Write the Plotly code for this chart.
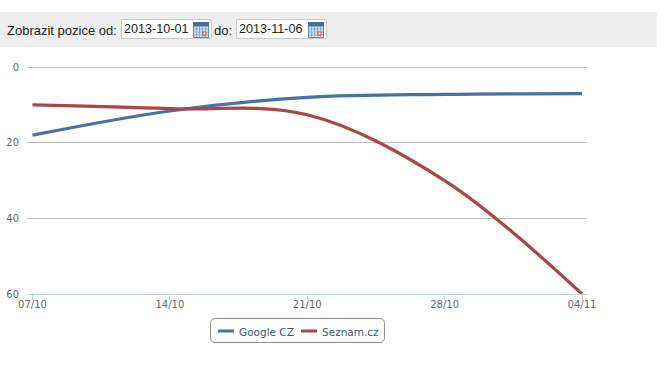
import plotly.graph_objects as go

W, H = 671, 369
L, R, T, B = 27, 587, 67, 294

categories = ["07/10", "14/10", "21/10", "28/10", "04/11"]
google = [18, 11.6, 8, 7.2, 7]
seznam = [10, 11, 12.6, 30, 60]
y_ticks = [0, 20, 40, 60]
date_from = "2013-10-01"
date_to = "2013-11-06"
BLUE = "#4572A7"
RED = "#AA4643"


def px(x):
    return (x - L) / (R - L)


def py(y):
    return (B - y) / (B - T)


def rect(x0, y0, x1, y1, fill=None, line=None, lw=1):
    return dict(type="rect", xref="paper", yref="paper", x0=px(x0), x1=px(x1), y0=py(y0), y1=py(y1),
                fillcolor=fill or "rgba(0,0,0,0)", line=dict(color=line or "rgba(0,0,0,0)", width=lw if line else 0), layer="below")


def seg(x0, y0, x1, y1, color, lw=1):
    return dict(type="line", xref="paper", yref="paper", x0=px(x0), x1=px(x1), y0=py(y0), y1=py(y1),
                line=dict(color=color, width=lw), layer="below")


def text(x, y, s, size, color, family, anchor="left"):
    return dict(xref="paper", yref="paper", x=px(x), y=py(y), text=s, showarrow=False, xanchor=anchor, yanchor="middle",
                font=dict(size=size, color=color, family=family), borderpad=0, borderwidth=0)


def calendar(x):
    out = [rect(x, 22.5, x + 15, 37.5, "#dbe6f6", "#5b7fae"), rect(x, 22.5, x + 15, 26, "#4a6a9c", "#4a6a9c")]
    for i in range(1, 5):
        out.append(seg(x + i * 3, 26, x + i * 3, 37.5, "#8aa6cc"))
    for j in range(1, 4):
        out.append(seg(x, 26 + j * 3, x + 15, 26 + j * 3, "#8aa6cc"))
    out.append(rect(x + 9.5, 32, x + 12.5, 35, "#ffffff", "#e04a20"))
    return out


shapes = [rect(0, 12, 657, 47, "#efefef"),
          rect(121.5, 19.5, 211.5, 38.5, "#ffffff", "#c8c8c8"),
          rect(236.5, 19.5, 326.5, 38.5, "#ffffff", "#c8c8c8"),
          seg(L, 67.5, R, 67.5, "#C0C0C0")]
shapes += calendar(193.5) + calendar(308.5)
r = 5
lx0, lx1, ly0, ly1 = 210.5, 384.5, 318.5, 342.5
path = (f"M {px(lx0 + r)} {py(ly0)} L {px(lx1 - r)} {py(ly0)} Q {px(lx1)} {py(ly0)} {px(lx1)} {py(ly0 + r)} "
        f"L {px(lx1)} {py(ly1 - r)} Q {px(lx1)} {py(ly1)} {px(lx1 - r)} {py(ly1)} "
        f"L {px(lx0 + r)} {py(ly1)} Q {px(lx0)} {py(ly1)} {px(lx0)} {py(ly1 - r)} "
        f"L {px(lx0)} {py(ly0 + r)} Q {px(lx0)} {py(ly0)} {px(lx0 + r)} {py(ly0)} Z")
shapes.append(dict(type="path", path=path, xref="paper", yref="paper", line=dict(color="#909090", width=1), fillcolor="#ffffff", layer="below"))
shapes += [seg(218, 331, 234, 331, BLUE, 3), seg(301, 331, 317, 331, RED, 3)]

AR = "Liberation Sans, Arial, sans-serif"
DV = "DejaVu Sans, Verdana, sans-serif"
annotations = [text(7, 30, "Zobrazit pozice od:", 13, "#222222", AR),
               text(124, 29.5, date_from, 12.6, "#222222", AR),
               text(214, 30, "do:", 13, "#222222", AR),
               text(239, 29.5, date_to, 12.6, "#222222", AR),
               text(239, 331.5, "Google CZ", 10.5, "#3E576F", DV),
               text(322, 331.5, "Seznam.cz", 10.5, "#3E576F", DV)]

fig = go.Figure()
for name, vals, col in [("Google CZ", google, BLUE), ("Seznam.cz", seznam, RED)]:
    fig.add_trace(go.Scatter(x=list(range(len(categories))), y=vals, name=name, mode="lines",
                             line=dict(color=col, width=3.2, shape="spline", smoothing=1.0), cliponaxis=False))

fig.update_layout(
    width=W, height=H, margin=dict(l=L, r=W - R, t=T, b=H - B, pad=0, autoexpand=False),
    paper_bgcolor="#ffffff", plot_bgcolor="#ffffff", showlegend=False,
    shapes=shapes, annotations=annotations,
    xaxis=dict(range=[-5.5 / 137.4, 4 + 5 / 137.4], tickmode="array", tickvals=list(range(5)), ticktext=categories,
               ticks="outside", ticklen=5, tickwidth=1, tickcolor="#C0D0E0", showgrid=False,
               showline=True, linecolor="#C0D0E0", linewidth=1, zeroline=False, automargin=False,
               ticklabelstandoff=-4,
               tickfont=dict(size=10, color="#666666", family=DV)),
    yaxis=dict(range=[60, -0.03], tickmode="array", tickvals=y_ticks, ticks="outside", ticklen=5, tickcolor="rgba(0,0,0,0)",
               showgrid=True, gridcolor="#C0C0C0", gridwidth=1, automargin=False,
               zeroline=False, showline=False,
               tickfont=dict(size=10, color="#666666", family=DV)),
)
fig.write_html("out.html", post_script="document.body.style.margin='0';", config={"displayModeBar": False})
